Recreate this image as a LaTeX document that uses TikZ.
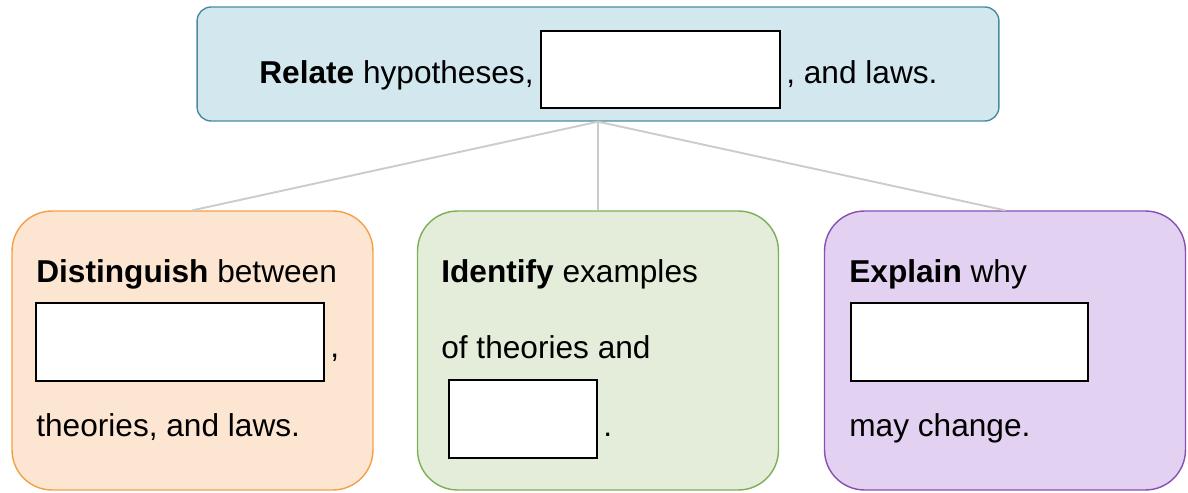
\documentclass[tikz,border=0pt]{standalone}
\usepackage{fontspec}
\setmainfont{Liberation Sans}
\usetikzlibrary{positioning}
\definecolor{relatefill}{HTML}{D2E7EE}
\definecolor{relateline}{HTML}{4A8C9C}
\definecolor{distfill}{HTML}{FCE6D2}
\definecolor{distline}{HTML}{F4A04A}
\definecolor{identfill}{HTML}{E3EDD9}
\definecolor{identline}{HTML}{7DAF57}
\definecolor{explfill}{HTML}{E2D1F0}
\definecolor{explline}{HTML}{8A4FB2}
\definecolor{linkgray}{HTML}{CCCCCC}

\begin{document}
\begin{tikzpicture}[x=0.02cm, y=-0.02cm,
	font=\fontsize{18}{22}\selectfont,
	goal/.style={line width=0.8pt, rounded corners=0.8cm, minimum width=7.22cm, minimum height=5.58cm, inner sep=0pt},
	blankbox/.style={draw=black, fill=white, line width=1.3pt, minimum height=1.56cm, inner sep=0pt},
	word/.style={inner sep=0pt, anchor=base west},
	link/.style={draw=linkgray, line width=1.1pt}]
	\useasboundingbox (0,0) rectangle (1188,493);

	\node[goal, fill=relatefill, draw=relateline, rounded corners=0.28cm, minimum width=16.04cm, minimum height=2.28cm] (relate) at (598,64) {};
	\node[goal, fill=distfill, draw=distline] (distinguish) at (192.5,350.5) {};
	\node[goal, fill=identfill, draw=identline] (identify) at (598,350.5) {};
	\node[goal, fill=explfill, draw=explline] (explain) at (1005,350.5) {};

	\draw[link] (relate.south) -- (distinguish.north);
	\draw[link] (relate.south) -- (identify.north);
	\draw[link] (relate.south) -- (explain.north);

	\node[word] (relatetext) at (259,84) {\textbf{Relate} hypotheses,};
	\node[blankbox, minimum width=4.78cm, minimum height=1.54cm] (relateblank) at (660.5,69.5) {};
	\node[word] (relateend) at (786,84) {, and laws.};

	\node[word] (disttext) at (36,283) {\textbf{Distinguish} between};
	\node[blankbox, minimum width=5.76cm] (distblank) at (180,342) {};
	\node[word] (distcomma) at (330,358) {,};
	\node[word] (distend) at (36,437) {theories, and laws.};

	\node[word] (identtext) at (441,283) {\textbf{Identify} examples};
	\node[word] (identmid) at (441,359) {of theories and};
	\node[blankbox, minimum width=2.96cm] (identblank) at (523,419) {};
	\node[word] (identdot) at (603,437) {.};

	\node[word] (expltext) at (849,283) {\textbf{Explain} why};
	\node[blankbox, minimum width=4.74cm] (explblank) at (969.5,342) {};
	\node[word] (explend) at (849,437) {may change.};
\end{tikzpicture}
\end{document}
